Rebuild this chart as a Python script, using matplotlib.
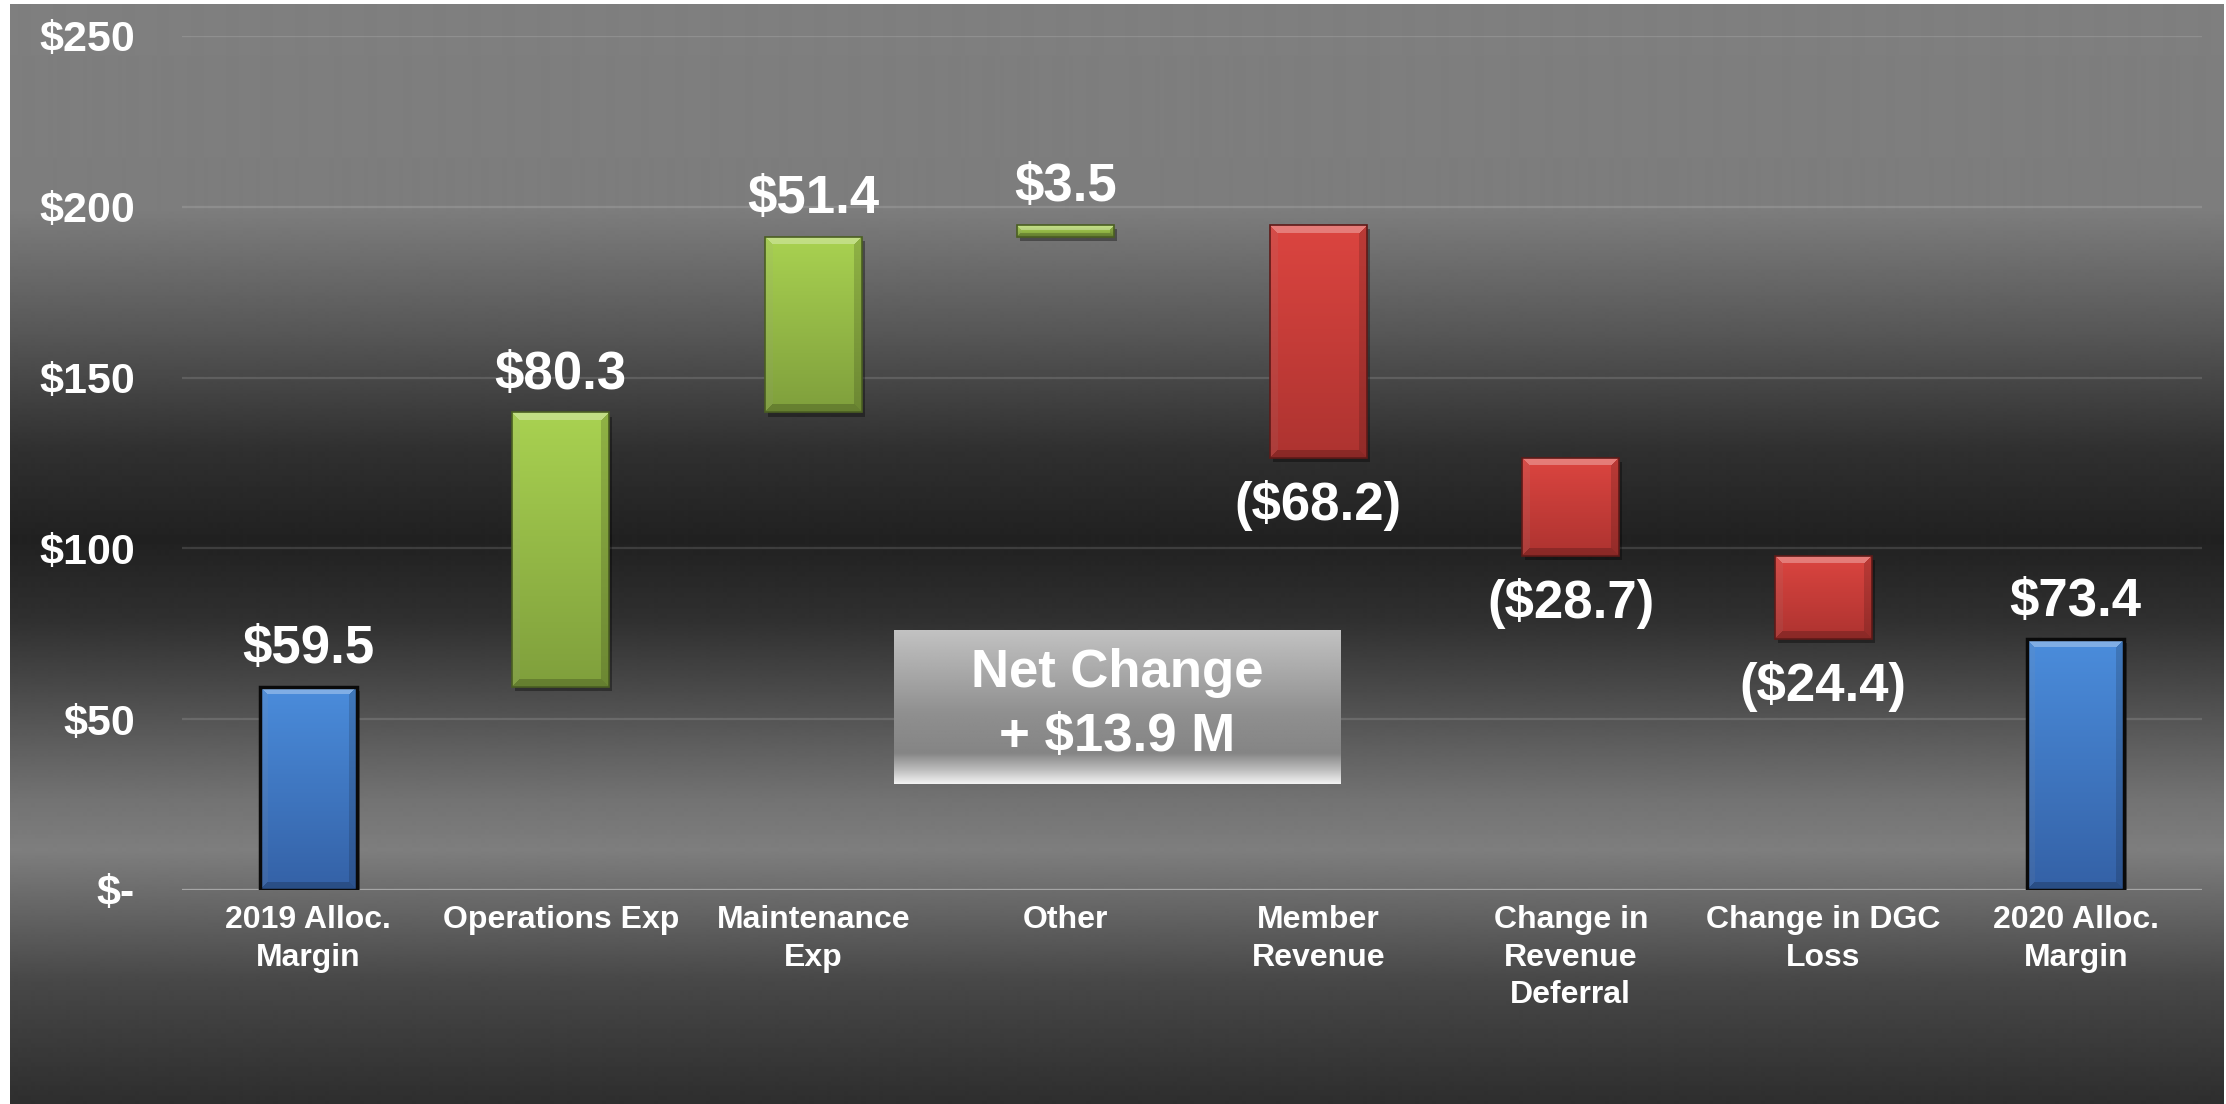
import numpy as np
import matplotlib.pyplot as plt
from matplotlib.colors import to_rgb

# waterfall data ($ millions)
categories = ["2019 Alloc.\nMargin", "Operations Exp", "Maintenance\nExp", "Other",
              "Member\nRevenue", "Change in\nRevenue\nDeferral", "Change in DGC\nLoss",
              "2020 Alloc.\nMargin"]
changes = [59.5, 80.3, 51.4, 3.5, -68.2, -28.7, -24.4, 73.4]
kinds = ["total", "up", "up", "up", "down", "down", "down", "total"]
yticks = [0, 50, 100, 150, 200, 250]
ytick_labels = ["$-", "$50", "$100", "$150", "$200", "$250"]
net_change = "Net Change\n+ $13.9 M"

plt.rcParams['font.family'] = ['Liberation Sans', 'DejaVu Sans']
plt.rcParams['font.weight'] = 'bold'

W, H = 2226, 1104
fig = plt.figure(figsize=(W / 100, H / 100), dpi=100)
fig.patch.set_facecolor("white")

# dark gradient slide background
bg = fig.add_axes([10 / W, 0, 2214 / W, 1100 / H], zorder=0)
stop_y = np.array([4, 210, 330, 450, 540, 620, 720, 800, 850, 900, 980, 1104])
stop_v = np.array([127, 125, 88, 48, 33, 48, 85, 115, 126, 105, 72, 46])
yy = np.arange(4, 1104)
g = np.interp(yy, stop_y, stop_v) / 255
bg.imshow(np.repeat(g[:, None], 2, axis=1), cmap="gray", vmin=0, vmax=1,
          aspect="auto", extent=(0, 1, 0, 1), interpolation="bilinear")
bg.axis("off")

ax_w_px, ax_h_px = 2020, 854
ax = fig.add_axes([182 / W, 214 / H, ax_w_px / W, ax_h_px / H], zorder=1)
ax.patch.set_alpha(0)
ax.set_xlim(-0.5, len(categories) - 0.5)
ax.set_ylim(0, 250)

colors = {
    "total": ("#4b8ddc", "#3461a6", "#0a0a0a"),
    "up": ("#a9d251", "#7f9f3c", "#4a5e22"),
    "down": ("#dc4540", "#ad3330", "#5e1a18"),
}
width = 0.384
px_x = ax_w_px / len(categories)
px_y = ax_h_px / 250


def bevel_image(c_top, c_bot, hp, wp):
    hp, wp = max(int(round(hp)), 3), max(int(round(wp)), 3)
    t = np.linspace(0, 1, hp)[:, None, None]
    img = (1 - t) * np.array(to_rgb(c_top)) + t * np.array(to_rgb(c_bot))
    img = np.repeat(img, wp, axis=1)
    b = min(8, hp / 2.5)
    r, c = np.mgrid[0:hp, 0:wp]
    top = (r < b) & (c >= r) & (c < wp - r)
    bottom = (r >= hp - b) & (c >= hp - 1 - r) & (c < wp - (hp - 1 - r))
    left = (c < b) & ~top & ~bottom
    right = (c >= wp - b) & ~top & ~bottom
    img[top] = img[top] * 0.7 + 0.3
    img[left] = img[left] * 0.9 + 0.06
    img[right] = img[right] * 0.85
    img[bottom] = img[bottom] * 0.8
    return np.clip(img, 0, 1)


running = 0
for i, (v, k) in enumerate(zip(changes, kinds)):
    if k == "total":
        bottom, top = 0, v
        running = v
    else:
        bottom = running if v > 0 else running + v
        top = bottom + abs(v)
        running += v
    c_top, c_bot, c_edge = colors[k]
    lw = 2.5 if k == "total" else 1.2
    bars = ax.bar(i, top - bottom, bottom=bottom, width=width, facecolor="none",
                  edgecolor=c_edge, linewidth=lw, zorder=4)
    # shadow
    ax.bar(i + 0.012, top - bottom, bottom=bottom - 1.2, width=width,
           color="black", alpha=0.35, zorder=2, linewidth=0)
    img = bevel_image(c_top, c_bot, (top - bottom) * px_y, width * px_x)
    im = ax.imshow(img, aspect="auto", zorder=3, interpolation="nearest",
                   extent=(i - width / 2, i + width / 2, bottom, top))
    im.set_clip_path(bars[0])

    if v >= 0:
        label = f"${abs(v):.1f}"
        ax.annotate(label, (i, top), xytext=(0, 27), textcoords="offset points",
                    ha="center", va="center", color="white", fontsize=38)
    else:
        label = f"(${abs(v):.1f})"
        ax.annotate(label, (i, bottom), xytext=(0, -34), textcoords="offset points",
                    ha="center", va="center", color="white", fontsize=38)

ax.set_xlim(-0.5, len(categories) - 0.5)
ax.set_ylim(0, 250)
ax.set_yticks(yticks)
ax.set_yticklabels(ytick_labels, fontsize=31, color="white")
ax.set_xticks(range(len(categories)))
ax.set_xticklabels(categories, fontsize=23, color="white", linespacing=1.32, va="top")
ax.tick_params(axis="y", length=0, pad=34)
ax.tick_params(axis="x", length=0, pad=11)
for s in ax.spines.values():
    s.set_visible(False)
ax.yaxis.grid(True, color="white", alpha=0.13, linewidth=1.6, zorder=1)
ax.set_axisbelow(True)
ax.axhline(0, color="#a5a5a5", linewidth=1.6, zorder=1)

# net change box
box = fig.add_axes([894 / W, (H - 784) / H, 446 / W, 154 / H], zorder=2)
by = np.array([0, 0.55, 0.8, 0.9, 1.0])
bv = np.array([0.76, 0.56, 0.52, 0.72, 0.95])
bg2 = np.interp(np.linspace(0, 1, 200), by, bv)
box.imshow(np.repeat(bg2[:, None], 2, axis=1), cmap="gray", vmin=0, vmax=1,
           aspect="auto", extent=(0, 1, 0, 1), interpolation="bilinear")
box.axis("off")
lines = net_change.split("\n")
box.text(0.5, 0.72, lines[0], ha="center", va="center", color="white", fontsize=38)
box.text(0.5, 0.305, lines[1], ha="center", va="center", color="white", fontsize=38)

fig.savefig("out.png", dpi=100)
